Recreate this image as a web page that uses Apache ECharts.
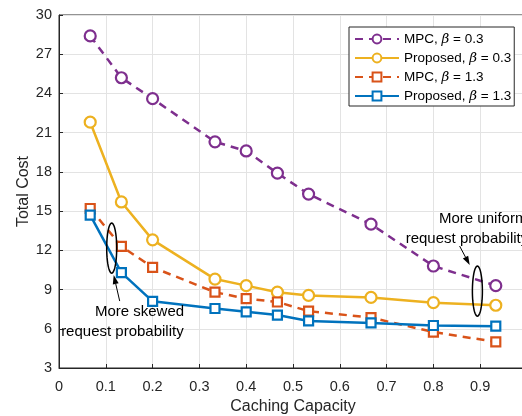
<!DOCTYPE html>
<html><head><meta charset="utf-8">
<script src="https://cdn.jsdelivr.net/npm/echarts@6/dist/echarts.min.js"></script>
<style>html,body{margin:0;padding:0;background:#fff}#c{width:522px;height:416px}</style>
</head><body><div id="c"></div>
<script>
const capacity = [0.0667, 0.1333, 0.2, 0.3333, 0.4, 0.4667, 0.5333, 0.6667, 0.8, 0.9333];
const mpc03 = [28.4, 25.2, 23.6, 20.3, 19.6, 17.9, 16.3, 14.0, 10.8, 9.3];
const prop03 = [21.8, 15.7, 12.8, 9.8, 9.3, 8.8, 8.55, 8.4, 8.0, 7.8];
const mpc13 = [15.2, 12.3, 10.7, 8.8, 8.3, 8.05, 7.35, 6.85, 5.75, 5.0];
const prop13 = [14.7, 10.3, 8.1, 7.55, 7.3, 7.05, 6.6, 6.45, 6.25, 6.2];
const seriesNames = ['MPC, β = 0.3', 'Proposed, β = 0.3', 'MPC, β = 1.3', 'Proposed, β = 1.3'];
const yTicks = [3, 6, 9, 12, 15, 18, 21, 24, 27, 30];
const xTicks = [0, 0.1, 0.2, 0.3, 0.4, 0.5, 0.6, 0.7, 0.8, 0.9];

const FONT = 'Liberation Sans, Arial, Helvetica, sans-serif';
const colors = ['#7E2F8E', '#EDB120', '#D95319', '#0072BD'];
const symbols = ['circle', 'circle', 'rect', 'rect'];
const dashes = ['dashed', 'solid', 'dashed', 'solid'];
const datasets = [mpc03, prop03, mpc13, prop13];

function pairs(ys) { return capacity.map((x, i) => [x, ys[i]]); }

const chart = echarts.init(document.getElementById('c'), null, {renderer: 'canvas'});
const series = datasets.map((d, i) => ({
  name: seriesNames[i],
  type: 'line',
  data: pairs(d),
  symbol: symbols[i],
  symbolSize: symbols[i] === 'circle' ? 11 : 9,
  showAllSymbol: true,
  lineStyle: {color: colors[i], width: 2.5, type: dashes[i] === 'dashed' ? [8, 6] : 'solid'},
  itemStyle: {color: '#fff', borderColor: colors[i], borderWidth: 2.2},
  z: 3 + i,
  animation: false
}));

chart.setOption({
  animation: false,
  color: colors,
  grid: {left: 59, top: 15, width: 468, height: 353, outerBoundsMode: 'none', containLabel: false,
    show: true, borderColor: '#262626', borderWidth: 1},
  legend: {
    orient: 'vertical', left: 349, top: 27,
    itemWidth: 44, itemHeight: 11, itemGap: 5,
    padding: [5, 3, 3, 5],
    backgroundColor: '#fff', borderColor: '#262626', borderWidth: 1,
    data: seriesNames,
    formatter: function (n) { return n.replace('β', '{i|β}'); },
    textStyle: {fontFamily: FONT, fontSize: 13.5, color: '#000',
      rich: {i: {fontFamily: 'DejaVu Serif, serif', fontStyle: 'italic', fontSize: 13.5}}}
  },
  xAxis: {
    type: 'value', min: 0, max: 1, interval: 0.1,
    name: 'Caching Capacity', nameLocation: 'middle', nameGap: 31, nameMoveOverlap: false,
    nameTextStyle: {fontFamily: FONT, fontSize: 16, color: '#262626'},
    axisLine: {show: true, lineStyle: {color: '#262626', width: 1}},
    axisTick: {show: true, inside: true, length: 4, lineStyle: {color: '#262626'}},
    axisLabel: {fontFamily: FONT, fontSize: 14.5, color: '#262626', margin: 11,
      formatter: function (v) { const t = xTicks.find(x => Math.abs(x - v) < 1e-6); return t === undefined ? '' : String(t); }},
    splitLine: {show: true, lineStyle: {color: '#e3e3e3', width: 1}}
  },
  yAxis: {
    type: 'value', min: 3, max: 30, interval: 3,
    name: 'Total Cost', nameLocation: 'middle', nameGap: 27, nameMoveOverlap: false,
    nameTextStyle: {fontFamily: FONT, fontSize: 16, color: '#262626'},
    axisLine: {show: true, lineStyle: {color: '#262626', width: 1}},
    axisTick: {show: true, inside: true, length: 4, lineStyle: {color: '#262626'}},
    axisLabel: {fontFamily: FONT, fontSize: 14.5, color: '#262626', margin: 7,
      formatter: function (v) { return yTicks.includes(Math.round(v)) ? String(Math.round(v)) : ''; }},
    splitLine: {show: true, lineStyle: {color: '#e3e3e3', width: 1}}
  },
  series: series
});

// annotations in data coordinates
const P = (x, y) => chart.convertToPixel({gridIndex: 0}, [x, y]);
function ellipse(cx, cy, rx, ry) {
  const c = P(cx, cy); const pts = [];
  for (let k = 0; k < 64; k++) { const a = k / 64 * Math.PI * 2; pts.push([c[0] + rx * Math.cos(a), c[1] + ry * Math.sin(a)]); }
  return {type: 'polygon', shape: {points: pts}, style: {fill: 'none', stroke: '#000', lineWidth: 1.5}, z: 20};
}
function arrow(x1, y1, x2, y2) {
  const a = P(x1, y1), b = P(x2, y2);
  const ang = Math.atan2(b[1] - a[1], b[0] - a[0]);
  const L = 9, W = 3;
  const bx = b[0] - L * Math.cos(ang), by = b[1] - L * Math.sin(ang);
  return [
    {type: 'line', shape: {x1: a[0], y1: a[1], x2: bx, y2: by}, style: {stroke: '#000', lineWidth: 1}, z: 20},
    {type: 'polygon', shape: {points: [[b[0], b[1]], [bx + W * Math.sin(ang), by - W * Math.cos(ang)], [bx - W * Math.sin(ang), by + W * Math.cos(ang)]]}, style: {fill: '#000'}, z: 20}
  ];
}
function text(x, y, s, align) {
  const p = P(x, y);
  return {type: 'text', x: p[0], y: p[1], style: {text: s, fontFamily: FONT, fontSize: 15, fill: '#000', align: align || 'center', verticalAlign: 'middle'}, z: 21};
}
chart.setOption({
  graphic: [
    ellipse(0.1126, 12.17, 5, 25),
    ellipse(0.894, 8.88, 5, 25),
    ...arrow(0.1297, 8.12, 0.1169, 10.11),
    ...arrow(0.856, 12.33, 0.8776, 10.87),
    text(0.172, 7.30, 'More skewed'),
    text(0.1355, 5.77, 'request probability'),
    text(0.812, 14.37, 'More uniform', 'left'),
    text(0.7408, 12.84, 'request probability', 'left')
  ]
});
</script></body></html>
